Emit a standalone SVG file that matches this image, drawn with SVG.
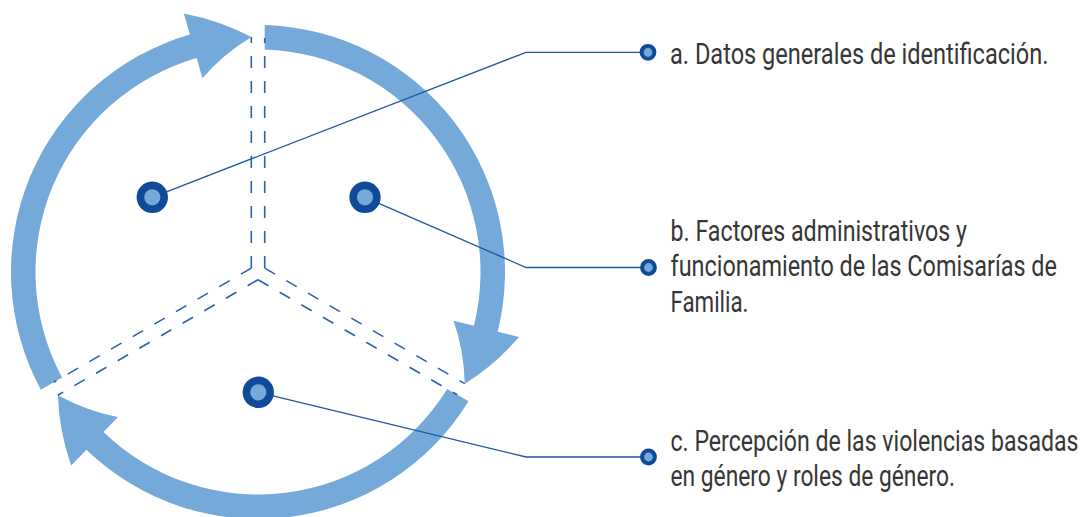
<svg xmlns="http://www.w3.org/2000/svg" width="1087" height="517" viewBox="0 0 1087 517">
  <style>
    .arrow { fill: #75A9DA; }
    .spoke { stroke: #2C61AC; stroke-width: 1.6; stroke-dasharray: 12 13; fill: none; }
    .leader { stroke: #1E56A4; stroke-width: 1.3; fill: none; }
    .node { fill: #75A9DA; stroke: #0F4B98; stroke-width: 7.6; }
    .dot { fill: #75A9DA; stroke: #0F4B98; stroke-width: 4; }
    .label { font-family: Roboto, "Liberation Sans", sans-serif; font-size: 29.5px; fill: #363636; }
  </style>
  <rect width="1087" height="517" fill="#ffffff"/>

  <g id="cycle">
    <path class="arrow" d="M 40.82 389.65 A 247 247 0 0 1 189.92 34.57 L 183.85 13.42 Q 221.17 20.70 251.3 37.10 Q 222.22 54.96 202.46 78.31 L 196.67 58.12 A 222.5 222.5 0 0 0 62.05 377.40 Z"/>
    <path class="arrow" d="M 264.7 25.09 A 247 247 0 0 1 497.66 331.75 L 519.01 337.08 Q 494.05 365.77 464.78 383.65 Q 463.86 349.54 453.51 320.75 L 473.89 325.83 A 222.5 222.5 0 0 0 264.7 49.60 Z"/>
    <path class="arrow" d="M 468.48 401.25 A 247 247 0 0 1 86.42 449.68 L 71.14 465.50 Q 58.77 429.55 57.92 395.25 Q 87.93 411.52 118.03 416.95 L 103.44 432.05 A 222.5 222.5 0 0 0 447.25 389.00 Z"/>
  </g>

  <g id="spokes">
    <line class="spoke" x1="251.3" y1="268.1" x2="251.3" y2="37.1"/>
    <line class="spoke" x1="264.7" y1="268.1" x2="264.7" y2="38"/>
    <line class="spoke" x1="251.3" y1="268.1" x2="53.7" y2="382.2"/>
    <line class="spoke" x1="258" y1="279.7" x2="57.9" y2="395.2"/>
    <line class="spoke" x1="264.7" y1="268.1" x2="464.8" y2="383.6"/>
    <line class="spoke" x1="258" y1="279.7" x2="457.3" y2="394.8"/>
  </g>

  <g id="connectors">
    <polyline class="leader" points="152.3,197.3 526,52.3 648,52.3"/>
    <polyline class="leader" points="365,197.3 526,267.5 648,267.5"/>
    <polyline class="leader" points="258.3,392.3 526,457 648,457"/>
  </g>

  <g id="node-a">
    <circle class="node" cx="152.3" cy="197.3" r="11.9"/>
    <circle class="dot" cx="648" cy="52.3" r="6.4"/>
    <text class="label" transform="translate(670,64.3) scale(0.8,1)" x="0" y="0" textLength="473.1" lengthAdjust="spacingAndGlyphs">a. Datos generales de identificación.</text>
  </g>

  <g id="node-b">
    <circle class="node" cx="365" cy="197.3" r="11.9"/>
    <circle class="dot" cx="648.5" cy="267.5" r="6.4"/>
    <text class="label" transform="translate(670.5,240.7) scale(0.8,1)" x="0" y="0" textLength="370.6" lengthAdjust="spacingAndGlyphs">b. Factores administrativos y</text>
    <text class="label" transform="translate(670.5,275.5) scale(0.8,1)" x="0" y="0" textLength="483.1" lengthAdjust="spacingAndGlyphs">funcionamiento de las Comisarías de</text>
    <text class="label" transform="translate(670.5,311.5) scale(0.8,1)" x="0" y="0" textLength="97.5" lengthAdjust="spacingAndGlyphs">Familia.</text>
  </g>

  <g id="node-c">
    <circle class="node" cx="258.3" cy="392.3" r="11.9"/>
    <circle class="dot" cx="648.5" cy="457" r="6.4"/>
    <text class="label" transform="translate(670.5,451) scale(0.8,1)" x="0" y="0" textLength="510" lengthAdjust="spacingAndGlyphs">c. Percepción de las violencias basadas</text>
    <text class="label" transform="translate(670.5,485.7) scale(0.8,1)" x="0" y="0" textLength="355.6" lengthAdjust="spacingAndGlyphs">en género y roles de género.</text>
  </g>
</svg>
